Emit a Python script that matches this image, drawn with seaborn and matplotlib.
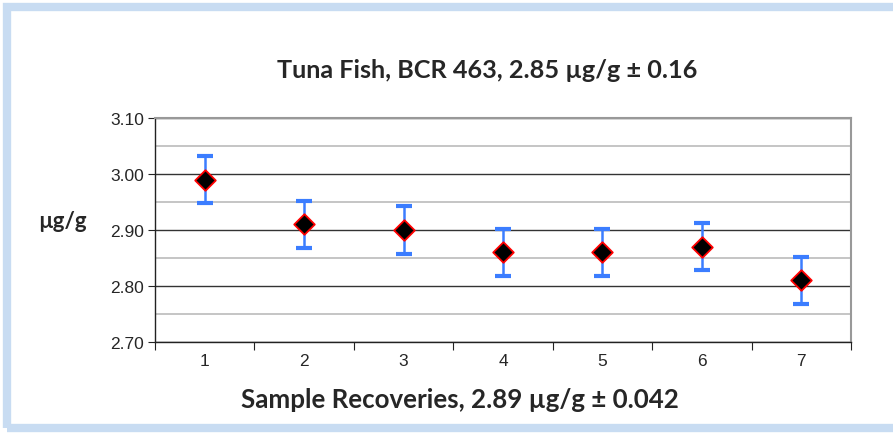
import matplotlib
matplotlib.use("Agg")
import matplotlib.pyplot as plt
import seaborn as sns
import pandas as pd
from matplotlib.patches import Rectangle
from matplotlib.ticker import MultipleLocator, FixedLocator, NullFormatter

samples = [1, 2, 3, 4, 5, 6, 7]
values = [2.99, 2.91, 2.90, 2.86, 2.86, 2.87, 2.81]
errors = [0.042, 0.042, 0.042, 0.042, 0.042, 0.042, 0.042]
title = "Tuna Fish, BCR 463, 2.85 µg/g ± 0.16"
xlabel = "Sample Recoveries, 2.89 µg/g ± 0.042"
ylabel = "µg/g"

df = pd.DataFrame({"sample": samples, "value": values, "err": errors})

sns.set_style("white")
plt.rcParams["font.family"] = ["Liberation Sans", "DejaVu Sans"]
bold_family = ["Lato", "DejaVu Sans"]

fig = plt.figure(figsize=(8.93, 4.35), dpi=100)
ax = fig.add_axes([0.1736, 0.2115, 0.953 - 0.1736, 0.7264 - 0.2115])

# frame around the figure
fig.patches.append(Rectangle((7 / 893, 6 / 435), 1.2, 1 - 14 / 435, transform=fig.transFigure,
                             fill=False, edgecolor="#c8dcf2", linewidth=6, zorder=0))

ax.errorbar(df["sample"], df["value"], yerr=df["err"], fmt="none", ecolor="#3b7dff",
            elinewidth=1.8, capsize=6, capthick=3, zorder=3)
sns.scatterplot(data=df, x="sample", y="value", marker="D", s=110, color="black",
                edgecolor="red", linewidth=1.3, ax=ax, zorder=4, legend=False)

ax.set_xlim(0.5, 7.5)
ax.set_ylim(2.70, 3.10)
ax.yaxis.set_major_locator(MultipleLocator(0.1))
ax.yaxis.set_minor_locator(MultipleLocator(0.05))
ax.yaxis.set_major_formatter(matplotlib.ticker.FormatStrFormatter("%.2f"))
ax.set_xticks(samples)
ax.set_xticklabels([str(s) for s in samples])
ax.xaxis.set_minor_locator(FixedLocator([i + 0.5 for i in range(0, 8)]))
ax.xaxis.set_minor_formatter(NullFormatter())
ax.tick_params(axis="x", which="major", length=0, labelsize=12.5, pad=8)
ax.tick_params(axis="x", which="minor", length=6, width=0.8, color="#222222", direction="out", bottom=True)
ax.tick_params(axis="y", which="major", length=5, width=0.8, color="#222222", direction="out", left=True, labelsize=12.5, pad=3)
ax.tick_params(axis="y", which="minor", length=0)

ax.grid(True, which="major", axis="y", color="#333333", linewidth=1.0, zorder=1)
ax.grid(True, which="minor", axis="y", color="#bbbbbb", linewidth=1.2, zorder=1)
ax.set_axisbelow(True)

for s in ["left", "bottom"]:
    ax.spines[s].set_color("#222222")
    ax.spines[s].set_linewidth(1.0)
for s in ["top", "right"]:
    ax.spines[s].set_color("#999999")
    ax.spines[s].set_linewidth(1.5)

ax.set_xlabel("")
ax.set_ylabel("")
fig.text(62 / 893, 1 - 222 / 435, ylabel, fontsize=16, fontweight="bold", ha="center", va="center",
         family=bold_family)
fig.text(487 / 893, 1 - 70 / 435, title, fontsize=18.2, fontweight="bold", ha="center", va="center",
         family=bold_family)
fig.text(460 / 893, 1 - 400 / 435, xlabel, fontsize=18.6, fontweight="bold", ha="center", va="center",
         family=bold_family)

fig.savefig("out.png", dpi=100)
